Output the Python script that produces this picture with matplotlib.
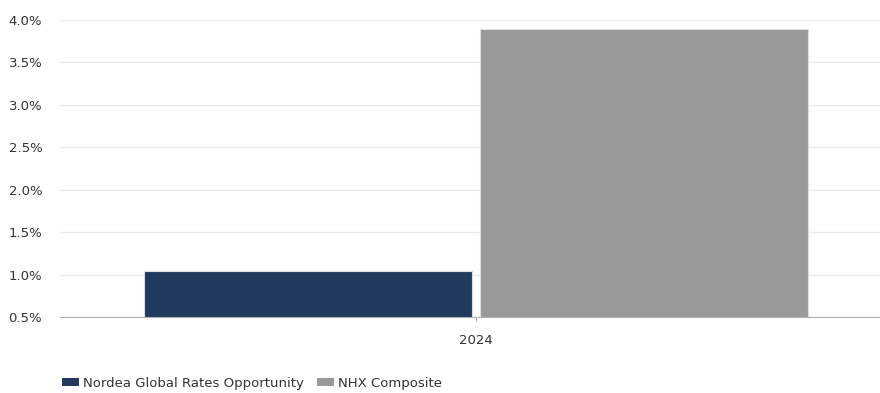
import matplotlib.pyplot as plt
from matplotlib.patches import Patch
from matplotlib.ticker import FuncFormatter

categories = ["2024"]
series_names = ["Nordea Global Rates Opportunity", "NHX Composite"]
series_values = [[1.04], [3.89]]
colors = ["#223a5e", "#999999"]
yticks = [0.5, 1.0, 1.5, 2.0, 2.5, 3.0, 3.5, 4.0]

plt.rcParams['font.family'] = ['DejaVu Sans']

fig = plt.figure(figsize=(8.8, 3.93), dpi=100)
ax = fig.add_axes([60 / 880, 1 - 317 / 393, 820 / 880, 297 / 393])

width = 0.4
offsets = [-0.205, 0.205]
for vals, off, c in zip(series_values, offsets, colors):
    xs = [i + off for i in range(len(categories))]
    ax.bar(xs, [v - 0.5 for v in vals], width=width, bottom=0.5,
           color=c, edgecolor="#dddddd", linewidth=0.8, zorder=3)

ax.set_xlim(-0.5077, 0.4923)
ax.set_ylim(0.5, 4.0)
ax.set_yticks(yticks)
ax.yaxis.set_major_formatter(FuncFormatter(lambda v, p: f"{v:.1f}%"))
ax.set_xticks(range(len(categories)))
ax.set_xticklabels(categories)

ax.grid(axis="y", color="#ebebeb", linewidth=1, zorder=0)
for s in ["left", "right", "top"]:
    ax.spines[s].set_visible(False)
ax.spines["bottom"].set_color("#b0b0b0")
ax.tick_params(axis="y", length=0, pad=37, labelsize=9.5, labelcolor="#333333")
ax.tick_params(axis="x", length=3, color="#b0b0b0", pad=9, labelsize=9.5, labelcolor="#333333")
for lbl in ax.get_yticklabels():
    lbl.set_horizontalalignment("left")

handles = [Patch(facecolor=c, edgecolor="none") for c in colors]
fig.legend(handles, series_names, loc="center left", bbox_to_anchor=(0.063, 1 - 383 / 393),
           ncol=2, frameon=False, fontsize=9.5, handlelength=1.3, handleheight=0.5,
           handletextpad=0.3, columnspacing=1.0, borderpad=0, labelcolor="#333333")

fig.savefig("out.png", dpi=100)
